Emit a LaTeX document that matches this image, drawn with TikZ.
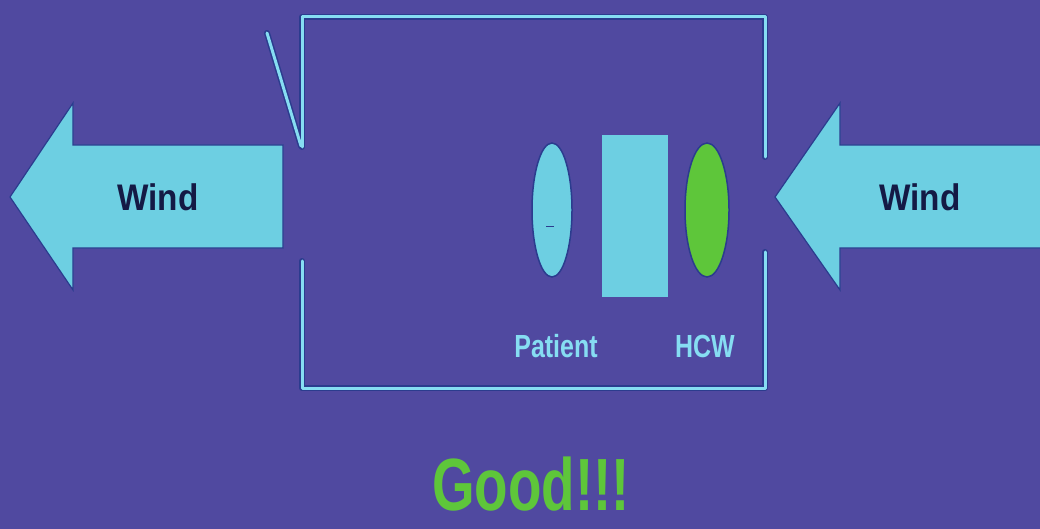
\documentclass[tikz,border=0pt]{standalone}
\usepackage{fontspec}
\setmainfont{Liberation Sans}
\usetikzlibrary{shapes.geometric}
\begin{document}
\begin{tikzpicture}[x=1pt,y=-1pt,
  wall/.style={draw=wallc,line width=3pt,line cap=round,line join=round},
  wallshadow/.style={draw=shadowc,line width=6pt,line cap=round,line join=round},
  windarrow/.style={fill=arrowc,draw=shadowc,line width=1.2pt,line join=miter},
  windtext/.style={font=\fontsize{37}{37}\selectfont\bfseries,text=navyc,xscale=0.9,inner sep=0pt},
  labeltext/.style={font=\fontsize{32}{32}\selectfont\bfseries,text=wallc,xscale=0.78,inner sep=0pt},
  person/.style={ellipse,draw=shadowc,line width=1.5pt,minimum width=40pt,minimum height=134pt,inner sep=0pt}
]
\definecolor{bgc}{HTML}{5049A0}
\definecolor{wallc}{HTML}{86DDF2}
\definecolor{shadowc}{HTML}{2B3C8E}
\definecolor{arrowc}{HTML}{6DCFE2}
\definecolor{navyc}{HTML}{141A45}
\definecolor{greenc}{HTML}{5EC63A}
\useasboundingbox (0,0) rectangle (1040,529);
\fill[bgc] (0,0) rectangle (1040,529);
% room shadows
\draw[wallshadow] (267,33) -- (301,146);
\draw[wallshadow] (302,147) -- (302,17) -- (765,17) -- (765,157);
\draw[wallshadow] (302,261) -- (302,388) -- (765,388) -- (765,252);
% room walls
\draw[wall] (267,33) -- (301,146);
\draw[wall] (302,147) -- (302,17) -- (765,17) -- (765,157);
\draw[wall] (302,261) -- (302,388) -- (765,388) -- (765,252);
% left wind arrow
\draw[windarrow] (10,197) -- (73,103) -- (73,145) -- (283,145) -- (283,248) -- (73,248) -- (73,290) -- cycle;
\node[windtext] (windL) at (158,197) {Wind};
% right wind arrow
\draw[windarrow] (775,197) -- (840,103) -- (840,145) -- (1045,145) -- (1045,248) -- (840,248) -- (840,290) -- cycle;
\node[windtext] (windR) at (920,197) {Wind};
% patient, screen, HCW
\node[person,fill=arrowc] (patient) at (552,210) {};
\draw[shadowc,line width=1pt] (546,227) -- (554,227);
\node[fill=arrowc,minimum width=66pt,minimum height=162pt,inner sep=0pt] (screen) at (635,216) {};
\node[person,fill=greenc,minimum width=44pt] (hcw) at (707,210) {};
\node[labeltext] (plabel) at (556,346) {Patient};
\node[labeltext] (hlabel) at (705,346) {HCW};
% verdict
\node[font=\fontsize{74}{74}\selectfont\bfseries,text=greenc,xscale=0.74,inner sep=0pt] (good) at (531,484) {Good!!!};
\end{tikzpicture}
\end{document}
